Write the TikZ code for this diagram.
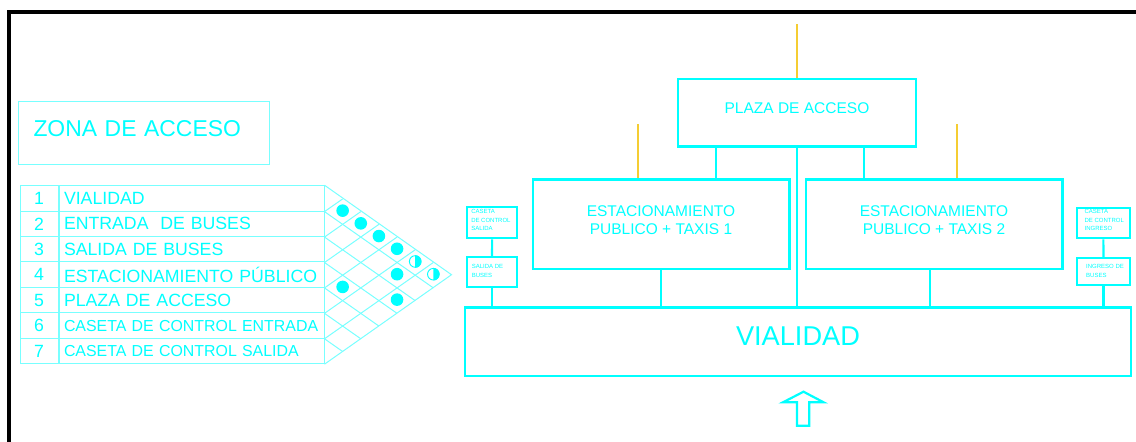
\documentclass[tikz,border=0pt]{standalone}
\usepackage{fontspec}
\setmainfont{Liberation Sans}
\usetikzlibrary{positioning, calc}
\definecolor{cadcian}{RGB}{0, 255, 255}
\definecolor{cadclaro}{RGB}{120, 255, 255}
\definecolor{cadamarillo}{RGB}{245, 205, 50}
\newcommand{\altofila}{25.43}
\newcommand{\pasodiag}{18.14}

\begin{document}
\begin{tikzpicture}[
    x=1pt, y=-1pt,
    caja/.style={rectangle, draw=cadcian, line width=2.4pt, text=cadcian, inner sep=0pt, align=center},
    cajachica/.style={caja, line width=2pt},
    textochico/.style={text=cadcian, inner sep=0pt, align=left, anchor=north west, font=\fontsize{6}{8.35}\selectfont},
    celda/.style={rectangle, draw=cadclaro, line width=1pt, text=cadcian, inner sep=0pt, minimum height=\altofila pt},
    rejilla/.style={cadclaro, line width=1pt},
    conector/.style={cadcian, line width=2.2pt},
    amarillo/.style={cadamarillo, line width=2.2pt}
]
\useasboundingbox (0,0) rectangle (1136,442);

% Marco del plano
\draw[line width=4pt] (8.7,442) |- (1136,12);

% Titulo
\node[celda, anchor=west, text width=221pt, inner xsep=15pt, minimum height=63pt, align=left,
      text depth=7.5pt, font=\fontsize{22.9}{26}\selectfont] (zona) at (18,132.5) {ZONA DE ACCESO};

% Tabla de elementos
\foreach \i/\texto/\tam in {1/VIALIDAD/17.7, 2/{ENTRADA\ \ DE BUSES}/17.7, 3/SALIDA DE BUSES/17.7,
    4/ESTACIONAMIENTO PÚBLICO/17.7, 5/PLAZA DE ACCESO/17.7,
    6/CASETA DE CONTROL ENTRADA/15.9, 7/CASETA DE CONTROL SALIDA/15.9} {
  \pgfmathsetmacro\yfila{185.7+(\i-0.5)*\altofila}
  \node[celda, minimum width=38pt, font=\fontsize{17.7}{20}\selectfont] (n\i) at (39,\yfila) {\i};
  \node[celda, text width=255pt, inner xsep=5pt, align=left, font=\fontsize{\tam}{19}\selectfont,
        right=0pt of n\i] (f\i) {\texto};
}

% Matriz de relaciones
\draw[rejilla] (f1.north east) -- ($(f1.north east)!0.5!(f7.south east)+(127,0)$) -- (f7.south east);
\foreach \m in {1,...,6} {
  \draw[rejilla] (f\m.south east) -- ++({(7-\m)*\pasodiag},{(7-\m)*\altofila/2});
  \draw[rejilla] (f\m.south east) -- ++({\m*\pasodiag},{-\m*\altofila/2});
}
\foreach \a/\b in {1/2, 1/3, 1/4, 1/5, 2/6, 4/5, 3/7}
  \fill[cadcian] ($(f1.north east)+({(\b-\a)*\pasodiag},{(\a+\b-1)*\altofila/2})$) circle[radius=6.3pt];
\foreach \a/\b in {1/6, 1/7} {
  \coordinate (m\a\b) at ($(f1.north east)+({(\b-\a)*\pasodiag},{(\a+\b-1)*\altofila/2})$);
  \draw[cadcian, line width=0.9pt] (m\a\b) circle[radius=5.8pt];
  \fill[cadcian] (m\a\b) ++(0pt,-6.3pt) arc[start angle=-90, end angle=90, radius=6.3pt] -- cycle;
}

% Diagrama de zonas
\node[caja, minimum width=238.4pt, minimum height=67.7pt, text depth=10pt,
      font=\fontsize{15.5}{18.6}\selectfont] (plaza) at (797,112.8) {PLAZA DE ACCESO};
\node[caja, minimum width=256.6pt, minimum height=89.4pt, text depth=8pt,
      font=\fontsize{15.5}{18.6}\selectfont] (est1) at (661,224) {ESTACIONAMIENTO\\PUBLICO + TAXIS 1};
\node[caja, minimum width=256.6pt, minimum height=89.4pt, text depth=8pt,
      font=\fontsize{15.5}{18.6}\selectfont] (est2) at (934,224) {ESTACIONAMIENTO\\PUBLICO + TAXIS 2};
\node[caja, minimum width=666pt, minimum height=68.4pt, text depth=10.5pt,
      font=\fontsize{27.2}{30}\selectfont] (vial) at (798,341.5) {VIALIDAD};

% Casetas y accesos de buses
\node[cajachica, minimum width=50.3pt, minimum height=31pt] (cs) at (492.2,222.8) {};
\node[cajachica, minimum width=50pt, minimum height=29.4pt] (sb) at (492,272) {};
\node[cajachica, minimum width=53.3pt, minimum height=30.6pt] (ci) at (1103.3,223) {};
\node[cajachica, minimum width=53pt, minimum height=26.7pt] (ib) at (1103.5,271.7) {};
\node[textochico] (tcs) at ($(cs.north west)+(5,3.2)$) {CASETA\\DE CONTROL\\SALIDA};
\node[textochico] (tsb) at ($(sb.north west)+(5.7,8.2)$) {SALIDA DE\\BUSES};
\node[textochico] (tci) at ($(ci.north west)+(8.8,2.8)$) {CASETA\\DE CONTROL\\INGRESO};
\node[textochico] (tib) at ($(ib.north west)+(10,7.2)$) {INGRESO DE\\BUSES};

% Conexiones
\coordinate (c1) at (716,0);
\coordinate (c2) at (864,0);
\coordinate (c3) at (930,0);
\draw[conector] (c1 |- plaza.south) -- (c1 |- est1.north);
\draw[conector] (c2 |- plaza.south) -- (c2 |- est2.north);
\draw[conector] (plaza.south) -- (plaza.south |- vial.north);
\draw[conector] (est1.south) -- (est1.south |- vial.north);
\draw[conector] (c3 |- est2.south) -- (c3 |- vial.north);
\draw[conector] (cs) -- (sb);
\draw[conector] (sb.south) -- (sb.south |- vial.north);
\draw[conector] (ci) -- (ib);
\draw[conector] (ib.south) -- (ib.south |- vial.north);

% Accesos peatonales (amarillo)
\coordinate (ya0) at (797,24);
\coordinate (ya1) at (638,124);
\coordinate (ya2) at (957,124);
\draw[amarillo] (ya0) -- (plaza.north);
\draw[amarillo] (ya1) -- (ya1 |- est1.north);
\draw[amarillo] (ya2) -- (ya2 |- est2.north);

% Flecha de ingreso
\draw[conector, line join=miter] (797,425.7) -- (797,402.3) -- (783,402.3) -- (803.5,391.7)
  -- (823.6,402.3) -- (809.2,402.3) -- (809.2,425.7) -- cycle;

\end{tikzpicture}
\end{document}
